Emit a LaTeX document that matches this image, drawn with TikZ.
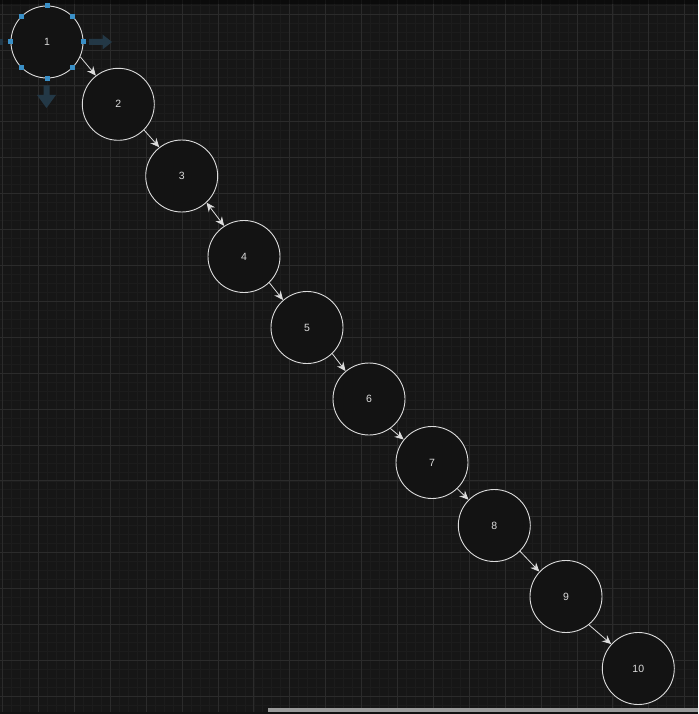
\documentclass[tikz,border=0pt]{standalone}
\usepackage{fontspec}
\setmainfont{Liberation Sans}
\usetikzlibrary{arrows.meta}
\definecolor{bgc}{HTML}{161616}
\definecolor{minorc}{HTML}{1C1C1C}
\definecolor{majorc}{HTML}{2B2B2B}
\definecolor{fillc}{HTML}{131313}
\definecolor{strokec}{HTML}{DCDCDC}
\definecolor{handlec}{HTML}{3A8FC6}
\definecolor{hoverc}{HTML}{233846}
\definecolor{scrollc}{HTML}{9A9A9A}
\tikzset{
  circ/.style={circle, draw=strokec, fill=fillc, line width=0.9pt, minimum size=72pt, inner sep=0pt, text=strokec, font=\fontsize{10.5}{12}\selectfont},
  conn/.style={draw=strokec, line width=0.8pt, -{Stealth[length=9pt,width=8pt,inset=3pt]}},
  biconn/.style={draw=strokec, line width=0.8pt, {Stealth[length=9pt,width=8pt,inset=3pt]}-{Stealth[length=9pt,width=8pt,inset=3pt]}},
  handle/.style={fill=handlec, draw=none, minimum size=5pt, inner sep=0pt, rectangle},
  hover/.style={fill=hoverc, draw=none}
}
\begin{document}
\begin{tikzpicture}[x=1pt,y=-1pt]
\useasboundingbox (0,0) rectangle (698,714);
\fill[bgc] (0,0) rectangle (698,714);
% minor grid
\foreach \i in {0,...,78} {
  \draw[minorc, line width=0.6pt] ({2.5+\i*8.975},0) -- ({2.5+\i*8.975},714);
}
\foreach \i in {-1,...,78} {
  \draw[minorc, line width=0.6pt] (0,{14.1+\i*8.975}) -- (698,{14.1+\i*8.975});
}
% major grid
\foreach \i in {0,...,19} {
  \draw[majorc, line width=0.8pt] ({2.5+\i*35.9},0) -- ({2.5+\i*35.9},714);
}
\foreach \i in {0,...,19} {
  \draw[majorc, line width=0.8pt] (0,{14.1+\i*35.9}) -- (698,{14.1+\i*35.9});
}
\fill[black!90!bgc, opacity=0.5] (0,0) rectangle (698,4);

% hover arrows (left one is cut off by the edge)
\fill[hover] (0,39.3) rectangle (3,44.7);
\fill[hover] (89,39) -- (102.5,39) -- (102.5,34.5) -- (112,42) -- (102.5,49.5) -- (102.5,45) -- (89,45) -- cycle;
\fill[hover] (43.5,85.5) -- (43.5,95) -- (37,95) -- (46.5,108) -- (56,95) -- (49.5,95) -- (49.5,85.5) -- cycle;

% nodes
\node[circ] (n1) at (47,42) {1};
\node[circ] (n2) at (118.3,104.3) {2};
\node[circ] (n3) at (181.7,176) {3};
\node[circ] (n4) at (244,256.5) {4};
\node[circ] (n5) at (307,327.5) {5};
\node[circ] (n6) at (369,399) {6};
\node[circ] (n7) at (432,462.5) {7};
\node[circ] (n8) at (494.3,525.5) {8};
\node[circ] (n9) at (566,596.5) {9};
\node[circ] (n10) at (638.3,668.5) {10};

% selection handles on node 1
\foreach \a in {0,45,...,315} {
  \node[handle] at (n1.\a) {};
}

% connectors
\draw[conn] (n1.-24) -- (n2.128);
\draw[conn] (n2.-45) -- (n3.128);
\draw[biconn] (n3.-47) -- (n4.123);
\draw[conn] (n4.-46) -- (n5.131);
\draw[conn] (n5.-46) -- (n6.130);
\draw[conn] (n6.-54) -- (n7.141);
\draw[conn] (n7.-46) -- (n8.135);
\draw[conn] (n8.-45) -- (n9.137);
\draw[conn] (n9.-51) -- (n10.138);

% scrollbar
\fill[bgc!80!black] (0,712) rectangle (698,714);
\fill[scrollc] (268,708) rectangle (698,712);
\end{tikzpicture}
\end{document}
